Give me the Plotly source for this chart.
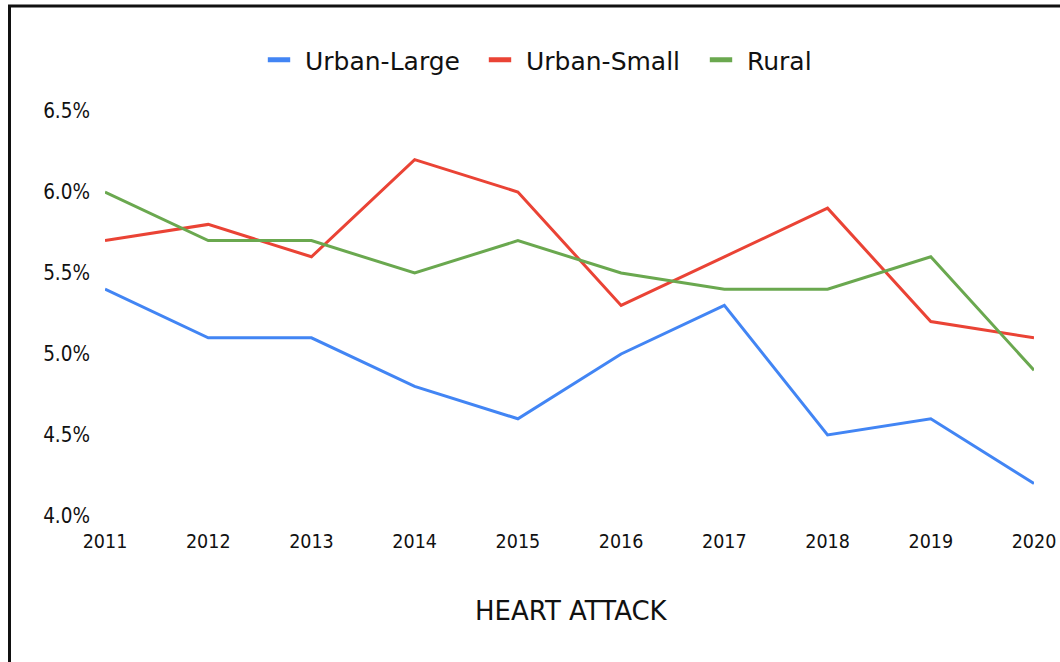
import plotly.graph_objects as go

years = ["2011", "2012", "2013", "2014", "2015", "2016", "2017", "2018", "2019", "2020"]
urban_large = [5.4, 5.1, 5.1, 4.8, 4.6, 5.0, 5.3, 4.5, 4.6, 4.2]
urban_small = [5.7, 5.8, 5.6, 6.2, 6.0, 5.3, 5.6, 5.9, 5.2, 5.1]
rural = [6.0, 5.7, 5.7, 5.5, 5.7, 5.5, 5.4, 5.4, 5.6, 4.9]
y_ticks = [4.0, 4.5, 5.0, 5.5, 6.0, 6.5]
y_tick_labels = ["4.0%", "4.5%", "5.0%", "5.5%", "6.0%", "6.5%"]

TICK_FONT = "DejaVu Sans Condensed, DejaVu Sans, sans-serif"
TEXT_FONT = "DejaVu Sans, sans-serif"
INK = "#111111"
W, H = 1060, 662
L, R, T, B = 105, 26, 111, 146
PW, PH = W - L - R, H - T - B


def px(x):
    return (x - L) / PW


def py(y):
    return (H - B - y) / PH


fig = go.Figure()
for name, vals, color in [
    ("Urban-Large", urban_large, "#4285F4"),
    ("Urban-Small", urban_small, "#EA4335"),
    ("Rural", rural, "#6AA84F"),
]:
    fig.add_trace(go.Scatter(x=years, y=vals, name=name, mode="lines",
                             legendgroup=name, showlegend=False,
                             line=dict(color=color, width=3)))
    # short thick key for the legend
    fig.add_trace(go.Scatter(x=[None], y=[None], name=name, mode="markers",
                             legendgroup=name, showlegend=True,
                             marker=dict(symbol="line-ew", size=19, color=color,
                                         line=dict(color=color, width=6))))

fig.update_layout(
    width=W, height=H,
    margin=dict(l=L, r=R, t=T, b=B, autoexpand=False),
    paper_bgcolor="white", plot_bgcolor="white",
    font=dict(family=TEXT_FONT, color=INK),
    showlegend=True,
    legend=dict(orientation="h", x=px(253), xanchor="left", y=py(60), yanchor="middle",
                font=dict(size=25, family=TEXT_FONT, color=INK), itemwidth=42,
                entrywidth=164, entrywidthmode="pixels",
                itemsizing="trace", tracegroupgap=0),
    xaxis=dict(type="category", showgrid=False, zeroline=False, showline=False,
               ticks="", tickfont=dict(size=19.5, family=TICK_FONT, color=INK),
               range=[0, 9], ticklabelstandoff=11, automargin=False),
    yaxis=dict(range=[4.0, 6.5], tickvals=y_ticks, ticktext=y_tick_labels,
               showgrid=False, zeroline=False, showline=False, ticks="",
               tickfont=dict(size=20.5, family=TICK_FONT, color=INK),
               ticklabelstandoff=14, automargin=False),
    annotations=[dict(text="HEART ATTACK", xref="paper", yref="paper",
                      x=px(571), y=py(611), xanchor="center", yanchor="middle",
                      showarrow=False,
                      font=dict(size=26, family=TEXT_FONT, color=INK))],
    shapes=[
        dict(type="line", xref="paper", yref="paper", x0=px(8), x1=px(1062),
             y0=py(6), y1=py(6), line=dict(color=INK, width=3)),
        dict(type="line", xref="paper", yref="paper", x0=px(9.5), x1=px(9.5),
             y0=py(5), y1=py(664), line=dict(color=INK, width=3)),
    ],
)

fig.write_html("out.html")
